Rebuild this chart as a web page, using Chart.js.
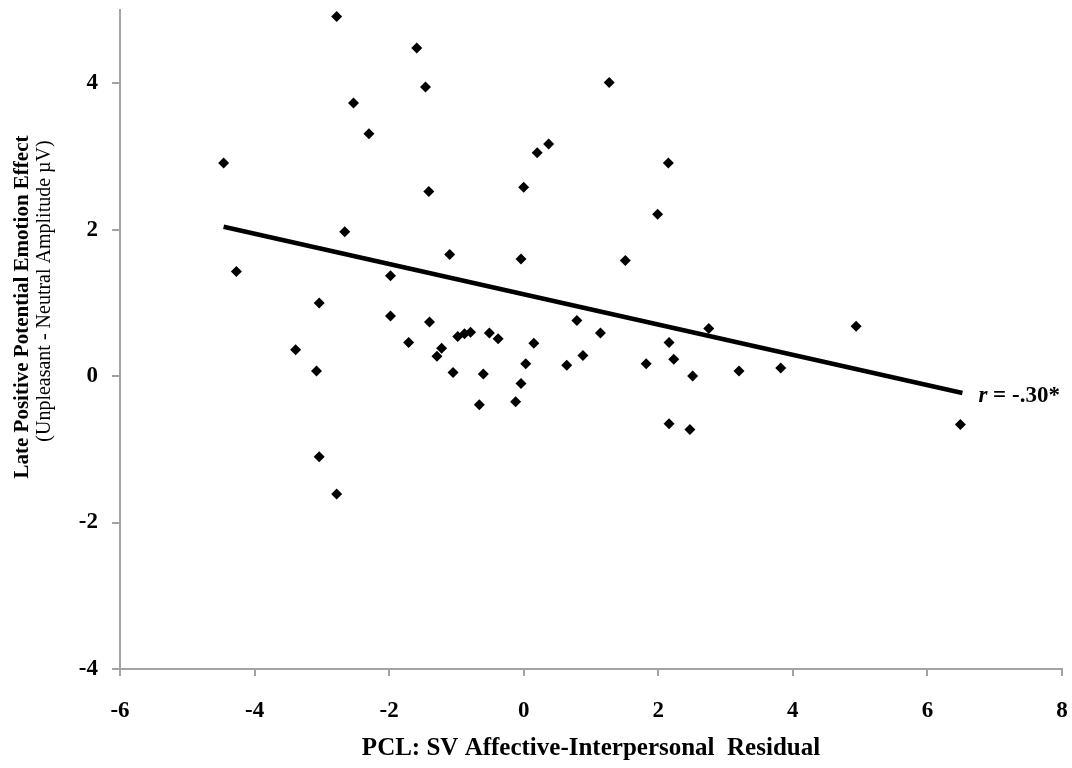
<!DOCTYPE html>
<html>
<head>
<meta charset="utf-8">
<script src="https://cdn.jsdelivr.net/npm/chart.js@4.4.1/dist/chart.umd.min.js"></script>
<style>
  html, body { margin: 0; padding: 0; background: #fff; }
  #wrap { width: 1072px; height: 768px; position: relative; }
</style>
</head>
<body>
<div id="wrap"><canvas id="chart"></canvas></div>
<script>
// --- data ---
const pclX = [-4.46, -4.27, -3.39, -3.04, -3.08, -3.04, -2.78, -2.78, -2.66, -2.53,
              -2.30, -1.98, -1.98, -1.71, -1.59, -1.46, -1.41, -1.40, -1.29, -1.22,
              -1.10, -1.05, -0.98, -0.88, -0.79, -0.66, -0.60, -0.51, -0.38, -0.12,
              -0.04, -0.04, 0.00, 0.03, 0.15, 0.20, 0.37, 0.64, 0.79, 0.88,
              1.14, 1.27, 1.51, 1.82, 1.99, 2.15, 2.16, 2.23, 2.16, 2.47,
              2.51, 2.75, 3.20, 3.82, 4.94, 6.49];
const lppY = [2.91, 1.43, 0.36, 1.00, 0.07, -1.10, -1.61, 4.91, 1.97, 3.73,
              3.31, 1.37, 0.82, 0.46, 4.48, 3.95, 2.52, 0.74, 0.27, 0.38,
              1.66, 0.05, 0.54, 0.58, 0.60, -0.39, 0.03, 0.59, 0.51, -0.35,
              -0.10, 1.60, 2.58, 0.17, 0.45, 3.05, 3.17, 0.15, 0.76, 0.28,
              0.59, 4.01, 1.58, 0.17, 2.21, 2.91, 0.46, 0.23, -0.65, -0.73,
              0.00, 0.65, 0.07, 0.11, 0.68, -0.66];
const fitX = [-4.46, 6.52];
const fitY = [2.04, -0.23];
const xTicks = [-6, -4, -2, 0, 2, 4, 6, 8];
const yTicks = [-4, -2, 0, 2, 4];
const xTitle = 'PCL: SV Affective-Interpersonal  Residual';
const yTitle1 = 'Late Positive Potential Emotion Effect';
const yTitle2 = '(Unpleasant - Neutral Amplitude \u00B5V)';
const corrLabel = ['r', ' = -.30*'];

const serif = "'Liberation Serif', 'Times New Roman', serif";
const axisGray = '#a3a3a3';

// titles and the r label drawn by hand (two fonts in one title)
const titlesPlugin = {
  id: 'titles',
  afterDraw(chart) {
    const ctx = chart.ctx;
    const area = chart.chartArea;
    ctx.save();
    ctx.fillStyle = '#000';
    ctx.textAlign = 'center';
    ctx.textBaseline = 'middle';
    ctx.font = 'bold 25px ' + serif;
    ctx.fillText(xTitle, (area.left + area.right) / 2, 749);

    ctx.save();
    ctx.translate(23, 307);
    ctx.rotate(-Math.PI / 2);
    ctx.font = 'bold 21px ' + serif;
    ctx.fillText(yTitle1, 0, 0);
    ctx.restore();
    ctx.save();
    ctx.translate(45, 291);
    ctx.rotate(-Math.PI / 2);
    ctx.font = '20px ' + serif;
    ctx.fillText(yTitle2, 0, 0);
    ctx.restore();

    // label next to the end of the fit line
    const xs = chart.scales.x, ys = chart.scales.y;
    let px = xs.getPixelForValue(fitX[1]) + 16;
    const py = ys.getPixelForValue(fitY[1]) + 3;
    ctx.textAlign = 'left';
    ctx.font = 'italic bold 23px ' + serif;
    ctx.fillText(corrLabel[0], px, py);
    px += ctx.measureText(corrLabel[0]).width;
    ctx.font = 'bold 23px ' + serif;
    ctx.fillText(corrLabel[1], px, py);
    ctx.restore();
  }
};

function noPad(s) {
  s.paddingTop = 0; s.paddingBottom = 0; s.paddingLeft = 0; s.paddingRight = 0;
}

new Chart(document.getElementById('chart'), {
  type: 'scatter',
  data: {
    datasets: [
      {
        label: 'LPP',
        data: pclX.map((x, i) => ({ x: x, y: lppY[i] })),
        pointStyle: 'rectRot',
        pointRadius: 5.5,
        pointBackgroundColor: '#000',
        pointBorderColor: '#000',
        pointBorderWidth: 0,
        order: 2
      },
      {
        label: 'fit',
        type: 'line',
        data: fitX.map((x, i) => ({ x: x, y: fitY[i] })),
        borderColor: '#000',
        borderWidth: 4.5,
        pointRadius: 0,
        fill: false,
        order: 1
      }
    ]
  },
  options: {
    responsive: true,
    maintainAspectRatio: false,
    animation: false,
    layout: { padding: { top: 10, right: 10, left: 0, bottom: 0 } },
    plugins: {
      legend: { display: false },
      tooltip: { enabled: false }
    },
    scales: {
      x: {
        type: 'linear',
        min: -6,
        max: 8,
        afterBuildTicks: s => { s.ticks = xTicks.map(v => ({ value: v })); },
        afterFit: s => { s.height = 99; noPad(s); },
        border: { color: axisGray, width: 2 },
        grid: { drawOnChartArea: false, tickLength: 7, color: axisGray, lineWidth: 2 },
        ticks: { color: '#000', padding: 21, maxRotation: 0,
                 font: { family: serif, size: 23, weight: 'bold' } }
      },
      y: {
        type: 'linear',
        min: -4,
        max: 5,
        afterBuildTicks: s => { s.ticks = yTicks.map(v => ({ value: v })); },
        afterFit: s => { s.width = 120; noPad(s); },
        border: { color: axisGray, width: 2 },
        grid: { drawOnChartArea: false, tickLength: 8, color: axisGray, lineWidth: 2 },
        ticks: { color: '#000', padding: 14,
                 font: { family: serif, size: 23, weight: 'bold' } }
      }
    }
  },
  plugins: [titlesPlugin]
});
</script>
</body>
</html>
